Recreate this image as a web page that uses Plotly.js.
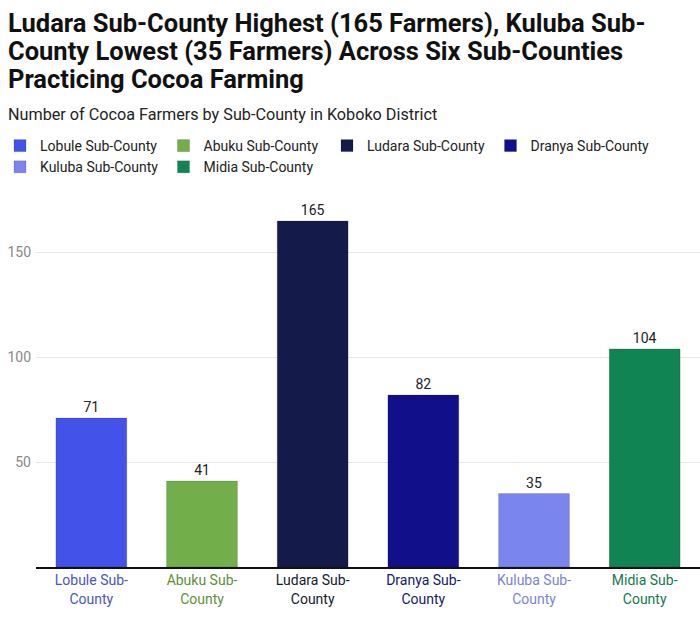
<!DOCTYPE html>
<html>
<head>
<meta charset="utf-8">
<script src="https://cdn.plot.ly/plotly-3.0.1.min.js"></script>
<style>
  html, body { margin: 0; padding: 0; background: #fff; }
  #chart { width: 700px; height: 632px; }
</style>
</head>
<body>
<div id="chart"></div>
<script>
// data
const subCounties = ['Lobule Sub-County', 'Abuku Sub-County', 'Ludara Sub-County',
                     'Dranya Sub-County', 'Kuluba Sub-County', 'Midia Sub-County'];
const farmers = [71, 41, 165, 82, 35, 104];
const yTicks = [50, 100, 150];

// bar fills and the darker shade used for the axis label of each bar
const barColors = ['#4352E8', '#72AE4A', '#141B4A', '#11108A', '#7B85EE', '#108553'];
const labelColors = ['#4A55C4', '#5E8F3C', '#141B2E', '#141A6A', '#7A84D6', '#157A4E'];

const font = 'Roboto, "Noto Sans", sans-serif';

// plot box in pixels, used to place the header text in paper units
const plotLeft = 36, plotTop = 200, plotW = 664, plotH = 367;
const px = x => (x - plotLeft) / plotW;
const py = y => 1 + (plotTop - y) / plotH;

// one trace per sub-county so each gets a legend entry
const traces = subCounties.map((name, i) => ({
    type: 'bar',
    name: name,
    x: [name],
    y: [farmers[i]],
    width: 0.64,
    marker: { color: barColors[i], line: { color: 'rgba(0,0,0,0.25)', width: 0.6 } },
    text: [String(farmers[i])],
    textposition: 'outside',
    textfont: { family: font, size: 14, color: '#222' },
    cliponaxis: false,
    hoverinfo: 'x+y'
}));

// two-line tick labels coloured like their bars
const tickText = subCounties.map((name, i) => {
    const c = labelColors[i];
    const parts = name.split(' Sub-');
    return `<span style="color:${c}">${parts[0]} Sub-</span><br><span style="color:${c}">${parts[1]}</span>`;
});

const titleLines = [
    'Ludara Sub-County Highest (165 Farmers), Kuluba Sub-',
    'County Lowest (35 Farmers) Across Six Sub-Counties',
    'Practicing Cocoa Farming'
];

const annotations = titleLines.map((t, i) => ({
    text: `<b>${t}</b>`,
    xref: 'paper', yref: 'paper',
    x: px(6), y: py(23 + i * 28),
    xanchor: 'left', yanchor: 'middle',
    showarrow: false,
    font: { family: font, size: 25.5, color: '#111' }
}));
annotations.push({
    text: 'Number of Cocoa Farmers by Sub-County in Koboko District',
    xref: 'paper', yref: 'paper',
    x: px(6), y: py(114),
    xanchor: 'left', yanchor: 'middle',
    showarrow: false,
    font: { family: font, size: 16.2, color: '#222' }
});

const layout = {
    width: 700,
    height: 632,
    margin: { l: plotLeft, r: 0, t: plotTop, b: 65 },
    paper_bgcolor: '#fff',
    plot_bgcolor: '#fff',
    barmode: 'overlay',
    font: { family: font, size: 14, color: '#222' },
    showlegend: true,
    legend: {
        orientation: 'h',
        x: px(0), xanchor: 'left',
        y: py(130), yanchor: 'top',
        font: { family: font, size: 14, color: '#222' },
        tracegroupgap: 0,
        traceorder: 'normal'
    },
    xaxis: {
        type: 'category',
        tickmode: 'array',
        tickvals: subCounties,
        ticktext: tickText,
        showline: true,
        linecolor: '#111',
        linewidth: 1.5,
        ticks: '',
        tickfont: { family: font, size: 14 },
        fixedrange: true
    },
    yaxis: {
        range: [0, 175],
        tickmode: 'array',
        tickvals: yTicks,
        showgrid: true,
        gridcolor: '#e6e6e6',
        zeroline: false,
        showline: false,
        ticks: '',
        ticklabelstandoff: 4,
        tickfont: { family: font, size: 14, color: '#888' },
        fixedrange: true
    },
    annotations: annotations
};

Plotly.newPlot('chart', traces, layout, { displayModeBar: false, staticPlot: true });
</script>
</body>
</html>
